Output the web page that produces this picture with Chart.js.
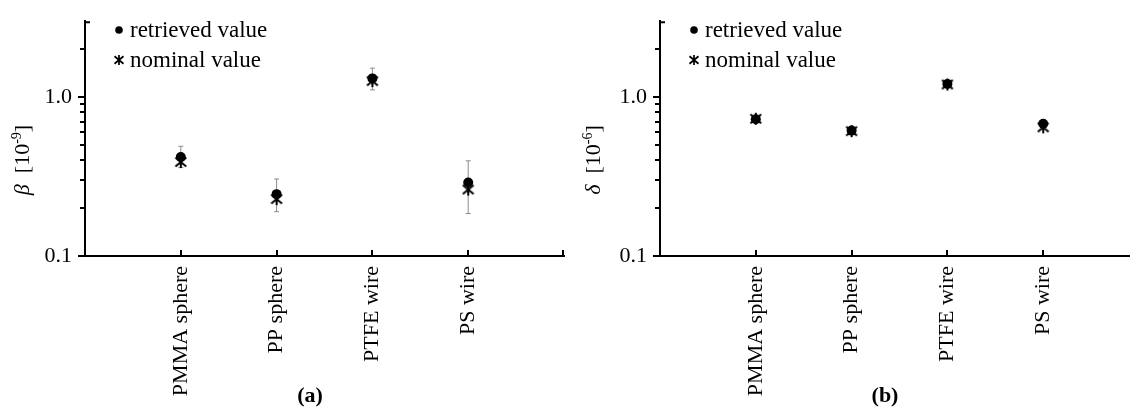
<!DOCTYPE html>
<html>
<head>
<meta charset="utf-8">
<script src="https://cdn.jsdelivr.net/npm/chart.js@4.4.0/dist/chart.umd.min.js"></script>
<style>
  html, body { margin: 0; padding: 0; background: #fff; width: 1130px; height: 408px; overflow: hidden; }
  .panel { position: absolute; top: 0; width: 575px; height: 408px; }
  #panelA { left: 0; }
  #panelB { left: 575px; }
</style>
</head>
<body>
<div class="panel" id="panelA"><canvas id="chartA" width="575" height="408"></canvas></div>
<div class="panel" id="panelB"><canvas id="chartB" width="575" height="408"></canvas></div>
<script>
// values (log axis, 0.1 .. 3)
const categories = ["PMMA sphere", "PP sphere", "PTFE wire", "PS wire"];
const legendLabels = ["retrieved value", "nominal value"];
const yTickValues = [0.1, 0.2, 0.3, 0.4, 0.5, 0.6, 0.7, 0.8, 0.9, 1, 2, 3];
const yTickLabels = { 0.1: "0.1", 1: "1.0" };

const betaRetrieved = [0.42, 0.245, 1.31, 0.29];
const betaNominal = [0.39, 0.228, 1.26, 0.262];
const betaErrLow = [0.36, 0.19, 1.11, 0.185];
const betaErrHigh = [0.49, 0.305, 1.52, 0.397];

const deltaRetrieved = [0.725, 0.615, 1.21, 0.68];
const deltaNominal = [0.73, 0.61, 1.2, 0.645];
const deltaErrLow = [0.70, 0.59, 1.15, 0.65];
const deltaErrHigh = [0.755, 0.64, 1.27, 0.72];

const SERIF = '"Liberation Serif", "Times New Roman", serif';

// the "ж"-like marker used for nominal values
function makeStar(size, lw) {
    const c = document.createElement("canvas");
    c.width = size;
    c.height = size;
    const g = c.getContext("2d");
    const h = size / 2, r = size / 2 - 1;
    g.strokeStyle = "#000";
    g.lineWidth = lw;
    g.beginPath();
    g.moveTo(h, h - r); g.lineTo(h, h + r);
    g.moveTo(h - r * 0.9, h - r * 0.75); g.lineTo(h + r * 0.9, h + r * 0.75);
    g.moveTo(h + r * 0.9, h - r * 0.75); g.lineTo(h - r * 0.9, h + r * 0.75);
    g.stroke();
    return c;
}
const starBig = makeStar(14, 2);
const starSmall = makeStar(12, 1.7);

const toPoints = arr => arr.map((v, i) => ({ x: i, y: v }));

// error bars, axis ticks, legend, y title and panel letter
const decorPlugin = {
    id: "decor",
    beforeDatasetsDraw(chart) {
        const { ctx, scales: { x, y } } = chart;
        const cfg = chart.options.plugins.decor;
        ctx.save();
        ctx.strokeStyle = "#8c8c8c";
        ctx.lineWidth = 1;
        cfg.errLow.forEach((lo, i) => {
            const px = x.getPixelForValue(i);
            const yLo = y.getPixelForValue(lo), yHi = y.getPixelForValue(cfg.errHigh[i]);
            ctx.beginPath();
            ctx.moveTo(px, yLo); ctx.lineTo(px, yHi);
            ctx.moveTo(px - 2.5, yLo); ctx.lineTo(px + 2.5, yLo);
            ctx.moveTo(px - 2.5, yHi); ctx.lineTo(px + 2.5, yHi);
            ctx.stroke();
        });
        ctx.restore();
    },
    afterDraw(chart) {
        const { ctx, chartArea: area, scales: { x, y } } = chart;
        const cfg = chart.options.plugins.decor;
        ctx.save();
        // inward ticks on the x axis, outward major/minor ticks on the log axis
        ctx.strokeStyle = "#000";
        ctx.lineWidth = 2;
        ctx.beginPath();
        categories.forEach((c, i) => {
            const px = Math.round(x.getPixelForValue(i));
            ctx.moveTo(px, area.bottom); ctx.lineTo(px, area.bottom - 6);
        });
        ctx.moveTo(area.right - 1, area.bottom); ctx.lineTo(area.right - 1, area.bottom - 6);
        ctx.moveTo(area.left, area.top + 1); ctx.lineTo(area.left + 5, area.top + 1);
        ctx.stroke();
        ctx.lineWidth = 2;
        ctx.beginPath();
        yTickValues.forEach(v => {
            if (v >= 3) return;
            const py = Math.round(y.getPixelForValue(v));
            const len = yTickLabels[v] ? 7 : 5;
            ctx.moveTo(area.left, py); ctx.lineTo(area.left - len, py);
        });
        ctx.stroke();

        // legend
        const lx = area.left + 34;
        ctx.fillStyle = "#000";
        ctx.beginPath();
        ctx.arc(lx, 30, 3.8, 0, Math.PI * 2);
        ctx.fill();
        ctx.drawImage(starSmall, lx - starSmall.width / 2, 60 - starSmall.height / 2);
        ctx.font = "23px " + SERIF;
        ctx.textBaseline = "middle";
        ctx.textAlign = "left";
        ctx.fillText(chart.data.datasets[1].label, lx + 11, 31);
        ctx.fillText(chart.data.datasets[0].label, lx + 11, 61);

        // rotated y title: italic symbol, bracketed power of ten
        const parts = [
            [cfg.symbol, "italic 22px " + SERIF, 0],
            ["  [10", "22px " + SERIF, 0],
            [cfg.exponent, "14px " + SERIF, -8],
            ["]", "22px " + SERIF, 0]
        ];
        let total = 0;
        parts.forEach(p => { ctx.font = p[1]; total += ctx.measureText(p[0]).width; });
        ctx.translate(cfg.titleX, 160);
        ctx.rotate(-Math.PI / 2);
        ctx.textBaseline = "alphabetic";
        let cx = -total / 2;
        parts.forEach(p => {
            ctx.font = p[1];
            ctx.fillText(p[0], cx, 7 + p[2]);
            cx += ctx.measureText(p[0]).width;
        });
        ctx.setTransform(1, 0, 0, 1, 0, 0);

        // panel letter
        ctx.font = "bold 22px " + SERIF;
        ctx.textAlign = "center";
        ctx.textBaseline = "middle";
        ctx.fillText(cfg.letter, area.left + 225, 396);
        ctx.restore();
    }
};

function buildChart(canvasId, retrieved, nominal, errLow, errHigh, symbol, exponent, letter, titleX) {
    const canvas = document.getElementById(canvasId);
    return new Chart(canvas.getContext("2d"), {
        type: "scatter",
        data: {
            datasets: [
                {
                    label: legendLabels[1],
                    data: toPoints(nominal),
                    pointStyle: starBig,
                    order: 0
                },
                {
                    label: legendLabels[0],
                    data: toPoints(retrieved),
                    pointStyle: "circle",
                    pointRadius: 5,
                    backgroundColor: "#000",
                    borderColor: "#000",
                    borderWidth: 0,
                    order: 1
                }
            ]
        },
        options: {
            responsive: false,
            animation: false,
            layout: { padding: { top: 16, right: 11, left: 0, bottom: 0 } },
            plugins: {
                legend: { display: false },
                tooltip: { enabled: false },
                decor: { errLow, errHigh, symbol, exponent, letter, titleX }
            },
            scales: {
                x: {
                    type: "linear",
                    min: -1,
                    max: 4,
                    afterBuildTicks: s => { s.ticks = categories.map((c, i) => ({ value: i })); },
                    afterFit: s => { s.height = 152; },
                    grid: { display: false },
                    border: { display: true, color: "#000", width: 2 },
                    ticks: {
                        autoSkip: false,
                        minRotation: 90,
                        maxRotation: 90,
                        padding: 2,
                        color: "#000",
                        font: { family: SERIF, size: 22 },
                        callback: v => categories[v]
                    }
                },
                y: {
                    type: "logarithmic",
                    min: 0.1,
                    max: 3,
                    afterBuildTicks: s => { s.ticks = yTickValues.map(v => ({ value: v })); },
                    afterFit: s => { s.width = 85; },
                    grid: { display: false, tickLength: 5 },
                    border: { display: true, color: "#000", width: 2 },
                    ticks: {
                        autoSkip: false,
                        padding: 8,
                        color: "#000",
                        font: { family: SERIF, size: 22 },
                        callback: v => yTickLabels[v] || ""
                    }
                }
            }
        },
        plugins: [decorPlugin]
    });
}

buildChart("chartA", betaRetrieved, betaNominal, betaErrLow, betaErrHigh, "\u03b2", "-9", "(a)", 22);
buildChart("chartB", deltaRetrieved, deltaNominal, deltaErrLow, deltaErrHigh, "\u03b4", "-6", "(b)", 18);
</script>
</body>
</html>
